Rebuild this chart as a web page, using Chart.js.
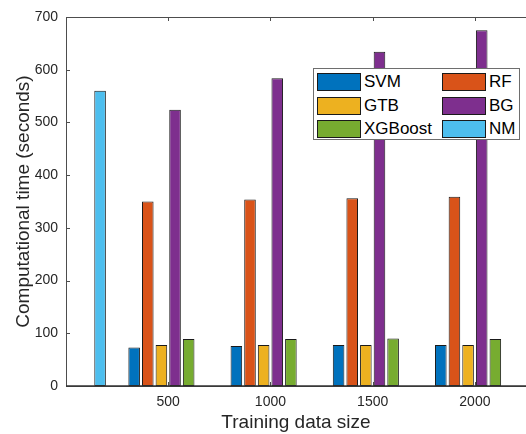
<!DOCTYPE html>
<html>
<head>
<meta charset="utf-8">
<script src="https://cdn.jsdelivr.net/npm/chart.js@4"></script>
<style>
  html, body { margin: 0; padding: 0; background: #fff; }
  #wrap { position: relative; width: 526px; height: 434px; overflow: hidden; }
  #legend {
    position: absolute; left: 313px; top: 68px; width: 207px; height: 72px;
    border: 1px solid #6e6e6e; background: #fff; box-sizing: border-box;
    font-family: "Liberation Sans", Arial, sans-serif; font-size: 17px; color: #000;
  }
  .item { position: absolute; height: 18px; display: flex; align-items: center; }
  .sw { width: 42px; height: 16px; border: 1px solid #1a1a1a; margin-right: 3px; }
</style>
</head>
<body>
<div id="wrap">
  <canvas id="chart" width="526" height="434"></canvas>
  <div id="legend"></div>
</div>
<script>
// --- Data ---
const sizes = [0, 500, 1000, 1500, 2000];
const tickValues = [500, 1000, 1500, 2000];
const seriesNames = ['SVM', 'RF', 'GTB', 'BG', 'XGBoost', 'NM'];
const svm = [0, 73, 76, 78, 78];
const rf = [0, 350, 354, 356, 359];
const gtb = [0, 78, 78, 78, 78];
const bg = [0, 524, 584, 634, 675];
const xgb = [0, 89, 89, 90, 89];
const nm = [560, 0, 0, 0, 0];

const seriesValues = [svm, rf, gtb, bg, xgb, nm];
const colors = ['#0072BD', '#D95319', '#EDB120', '#7E2F8E', '#77AC30', '#4DBEEE'];
const axisColor = '#4d4d4d';
const font = "'Liberation Sans', Arial, sans-serif";

const datasets = seriesNames.map((name, i) => ({
    label: name,
    data: sizes.map((x, j) => ({ x: x, y: seriesValues[i][j] })),
    backgroundColor: colors[i],
    borderColor: '#1a1a1a',
    borderWidth: 1,
    borderSkipped: false,
    barPercentage: 0.85,
    categoryPercentage: 0.8
}));

// box + inward ticks, MATLAB style
const boxPlugin = {
    id: 'box',
    afterDatasetsDraw(chart) {
        const { ctx, chartArea: a, scales } = chart;
        ctx.save();
        ctx.strokeStyle = axisColor;
        ctx.lineWidth = 1;
        ctx.beginPath();
        ctx.moveTo(a.left + 0.5, a.bottom);
        ctx.lineTo(a.left + 0.5, a.top + 0.5);
        ctx.lineTo(a.right, a.top + 0.5);
        ctx.stroke();
        ctx.beginPath();
        scales.y.ticks.forEach(t => {
            const y = Math.round(scales.y.getPixelForValue(t.value)) + 0.5;
            ctx.moveTo(a.left, y); ctx.lineTo(a.left + 4, y);
        });
        tickValues.forEach(v => {
            const x = Math.round(scales.x.getPixelForValue(v)) + 0.5;
            ctx.moveTo(x, a.top); ctx.lineTo(x, a.top + 4);
            ctx.moveTo(x, a.bottom); ctx.lineTo(x, a.bottom - 4);
        });
        ctx.stroke();
        // baseline
        ctx.strokeStyle = '#333';
        ctx.lineWidth = 1.5;
        ctx.beginPath();
        const y0 = scales.y.getPixelForValue(0);
        ctx.moveTo(a.left, y0); ctx.lineTo(a.right, y0);
        ctx.stroke();
        ctx.restore();
    }
};

const chart = new Chart(document.getElementById('chart'), {
    type: 'bar',
    data: { datasets: datasets },
    options: {
        responsive: false,
        animation: false,
        layout: { padding: { top: 17, right: 0, left: 0, bottom: 0 } },
        plugins: { legend: { display: false }, tooltip: { enabled: false } },
        scales: {
            x: {
                type: 'linear',
                min: 0,
                max: 2250,
                offset: false,
                grid: { display: false, drawTicks: false, offset: false },
                border: { display: true, color: axisColor },
                afterBuildTicks: s => { s.ticks = tickValues.map(v => ({ value: v })); },
                afterFit: s => { s.height = 48; },
                ticks: { padding: 8, color: '#262626', font: { family: font, size: 14 }, maxRotation: 0,
                         callback: v => String(v) },
                title: { display: true, text: 'Training data size', color: '#262626',
                         font: { family: font, size: 19 }, padding: { top: 0, bottom: 0 } }
            },
            y: {
                min: 0,
                max: 700,
                grid: { display: false, drawTicks: false },
                border: { display: true, color: axisColor },
                afterFit: s => { s.width = 66; },
                ticks: { stepSize: 100, padding: 8, color: '#262626', font: { family: font, size: 14 },
                         callback: v => String(v) },
                title: { display: true, text: 'Computational time (seconds)', color: '#262626',
                         font: { family: font, size: 19 }, padding: { top: 12, bottom: 0 } }
            }
        }
    },
    plugins: [boxPlugin]
});

// legend, two columns filled row by row
const legend = document.getElementById('legend');
seriesNames.forEach((name, i) => {
    const item = document.createElement('div');
    item.className = 'item';
    item.style.left = (i % 2 === 0 ? 3 : 128) + 'px';
    item.style.top = (4 + Math.floor(i / 2) * 23.5) + 'px';
    item.innerHTML = '<div class="sw" style="background:' + colors[i] + '"></div><span>' + name + '</span>';
    legend.appendChild(item);
});
</script>
</body>
</html>
